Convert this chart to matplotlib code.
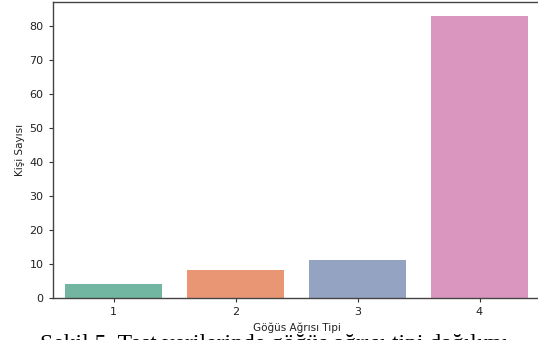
import matplotlib
matplotlib.use("Agg")
import matplotlib.pyplot as plt
import seaborn as sns

categories = ["1", "2", "3", "4"]
counts = [4, 8, 11, 83]
xlabel = "Göğüs Ağrısı Tipi"
ylabel = "Kişi Sayısı"
caption = "Şekil 5. Test verilerinde göğüs ağrısı tipi dağılımı"

colors = [sns.desaturate(c, 0.75) for c in sns.color_palette("Set2", 4)]

fig = plt.figure(figsize=(5.38, 3.40), dpi=100)
ax = fig.add_axes([52.5/538, 42.5/340, 488/538, 295.5/340])
ax.bar(range(len(categories)), counts, width=0.8, color=colors)
ax.set_xlim(-0.5, len(categories) - 0.5)
ax.set_ylim(0, max(counts) * 1.05)
ax.set_xticks(range(len(categories)))
ax.set_xticklabels(categories)
ax.set_yticks(range(0, 81, 10))
ax.tick_params(labelsize=8, length=3, color="#333333", labelcolor="#222222")
ax.set_xlabel(xlabel, fontsize=7.5, color="#222222", labelpad=4)
ax.set_ylabel(ylabel, fontsize=7.5, color="#222222", labelpad=3)
for s in ax.spines.values():
    s.set_color("#444444")
    s.set_linewidth(1.0)
ax.spines["right"].set_visible(False)

fig.text(40/538, 6/340, caption, fontsize=17, family="Liberation Serif",
         va="top", ha="left", color="#000000")

fig.savefig("out.png", dpi=100)
